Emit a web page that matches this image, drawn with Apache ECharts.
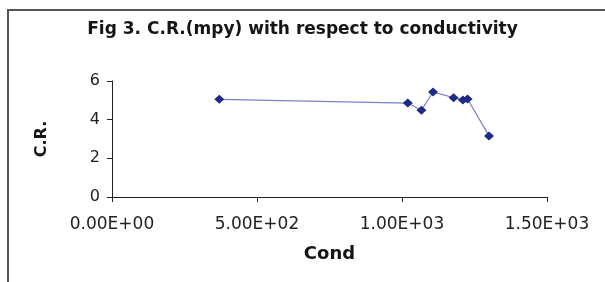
<!DOCTYPE html>
<html lang="en">
<head>
  <meta charset="UTF-8">
  <title>Fig 3. C.R.(mpy) with respect to conductivity</title>
  <script src="https://cdn.jsdelivr.net/npm/echarts@6/dist/echarts.min.js"></script>
</head>
<body style="margin:0;background:#fff">
  <div id="container" style="width:605px;height:282px;"></div>
  <script>
    // values
    var cond = [370, 1020, 1067, 1107, 1178, 1210, 1226, 1300];
    var cr = [5.05, 4.86, 4.49, 5.43, 5.14, 5.02, 5.07, 3.16];
    var xTicks = [0, 500, 1000, 1500];
    var yTicks = [0, 2, 4, 6];

    // Excel style 0.00E+00
    function sci(v) {
      var s = Number(v).toExponential(2).toUpperCase();
      var parts = s.split('E');
      var sign = parts[1].charAt(0);
      var exp = parts[1].slice(1);
      if (exp.length < 2) exp = '0' + exp;
      return parts[0] + 'E' + sign + exp;
    }

    var points = cond.map(function (c, i) { return [c, cr[i]]; });

    var myChart = echarts.init(document.getElementById('container'));
    myChart.setOption({
      backgroundColor: '#ffffff',
      animation: false,
      title: {
        text: 'Fig 3. C.R.(mpy) with respect to conductivity',
        left: 'center',
        top: 16,
        textStyle: { fontFamily: 'DejaVu Sans', fontSize: 17, fontWeight: 'bold', color: '#151515' }
      },
      graphic: [{
        type: 'rect',
        shape: { x: 8, y: 10, width: 640, height: 320 },
        style: { fill: 'none', stroke: '#555', lineWidth: 2 },
        silent: true
      }],
      grid: { left: 112, right: 58, top: 81, bottom: 85 },
      xAxis: {
        type: 'value',
        min: xTicks[0],
        max: xTicks[xTicks.length - 1],
        interval: 500,
        name: 'Cond',
        nameLocation: 'middle',
        nameGap: 48,
        nameTextStyle: { fontFamily: 'DejaVu Sans', fontSize: 18, fontWeight: 'bold', color: '#151515' },
        axisLine: { lineStyle: { color: '#222', width: 1 } },
        axisTick: { show: true, length: 5, lineStyle: { color: '#222' } },
        splitLine: { show: false },
        axisLabel: {
          margin: 19,
          fontFamily: 'DejaVu Sans',
          fontSize: 17,
          color: '#222',
          formatter: sci
        }
      },
      yAxis: {
        type: 'value',
        min: yTicks[0],
        max: yTicks[yTicks.length - 1],
        interval: 2,
        name: 'C.R.',
        nameLocation: 'middle',
        nameGap: 62,
        nameRotate: 90,
        nameTextStyle: { fontFamily: 'DejaVu Sans', fontSize: 16, fontWeight: 'bold', color: '#151515' },
        axisLine: { show: true, lineStyle: { color: '#222', width: 1 } },
        axisTick: { show: true, length: 5, lineStyle: { color: '#222' } },
        splitLine: { show: false },
        axisLabel: { margin: 12, fontFamily: 'DejaVu Sans', fontSize: 16, color: '#222' }
      },
      series: [{
        type: 'line',
        data: points,
        symbol: 'diamond',
        symbolSize: [10, 9],
        lineStyle: { color: '#7b80c8', width: 1.2 },
        itemStyle: { color: '#1f2a86' }
      }]
    });
  </script>
</body>
</html>
